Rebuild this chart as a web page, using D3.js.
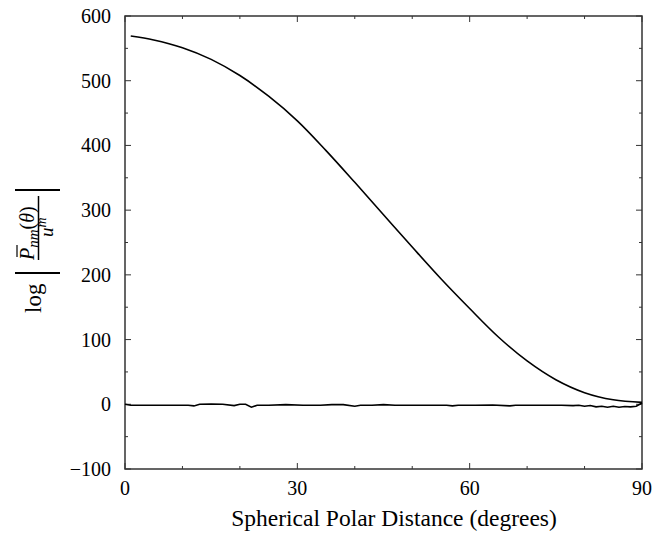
<!DOCTYPE html>
<html>
<head>
<meta charset="utf-8">
<script src="https://cdn.jsdelivr.net/npm/d3@7"></script>
<style>
  body { margin: 0; background: #fff; }
  svg text { font-family: "Liberation Serif", "DejaVu Serif", serif; fill: #000; }
  .tick-label { font-size: 20px; }
  .axis-title { font-size: 23.5px; }
</style>
</head>
<body>
<div id="chart"></div>
<script>
// upper curve (degrees, value)
const upperDeg = [1, 5, 10, 15, 20, 25, 30, 35, 40, 45, 50, 55, 60, 65, 70, 75, 80, 85, 90];
const upperVal = [569, 563, 551, 533, 508, 476, 438, 392, 343, 293, 243, 194, 148, 104, 67, 38, 18, 7, 3];

// lower curve, close to zero
const lowerDeg = [0, 1, 3, 6, 9, 11, 12, 13, 15, 17, 19, 20, 21, 22, 23, 25, 28, 31, 34, 36, 38, 40, 41, 43, 45, 47, 50, 53, 56, 57, 58, 61, 64, 67, 68, 70, 73, 76, 78, 79, 80, 81, 82, 83, 84, 85, 86, 87, 88, 89, 90];
const lowerVal = [0, -1.5, -1.5, -1.5, -1.5, -1.5, -2.5, 0, 0.5, 0, -2, 0, 0, -4.5, -1.5, -1.5, -0.5, -1.5, -1.5, -0.5, -0.5, -3, -1.5, -1.5, -0.5, -1.5, -1.5, -1.5, -1.5, -2.5, -1.5, -1.5, -1, -2.5, -1.5, -1.5, -1.5, -1.5, -2, -1.5, -3, -2, -4, -3, -4.5, -3, -4.5, -3.5, -4, -3, 2];

const xTicks = [0, 30, 60, 90];
const yTicks = [-100, 0, 100, 200, 300, 400, 500, 600];

const width = 658;
const height = 539;
const margin = { top: 16, right: 16, bottom: 70, left: 125 };
const innerWidth = width - margin.left - margin.right;
const innerHeight = height - margin.top - margin.bottom;

const svg = d3.select("#chart")
  .append("svg")
  .attr("width", width)
  .attr("height", height)
  .attr("font-family", "Liberation Serif, DejaVu Serif, serif");

const g = svg.append("g")
  .attr("transform", `translate(${margin.left},${margin.top})`);

const x = d3.scaleLinear().domain([0, 90]).range([0, innerWidth]);
const y = d3.scaleLinear().domain([-100, 600]).range([innerHeight, 0]);

// ticks on all four sides, pointing inward
const minorX = d3.range(0, 91, 10);
const minorY = d3.range(-100, 601, 50);
const tickCol = "#333";

function isMajorX(d) { return xTicks.includes(d); }
function isMajorY(d) { return yTicks.includes(d); }

g.selectAll(".xt-b").data(minorX).join("line")
  .attr("x1", d => x(d)).attr("x2", d => x(d))
  .attr("y1", innerHeight).attr("y2", d => innerHeight - (isMajorX(d) ? 6 : 3))
  .attr("stroke", tickCol).attr("stroke-width", 1);
g.selectAll(".xt-t").data(minorX).join("line")
  .attr("x1", d => x(d)).attr("x2", d => x(d))
  .attr("y1", 0).attr("y2", d => isMajorX(d) ? 6 : 3)
  .attr("stroke", tickCol).attr("stroke-width", 1);
g.selectAll(".yt-l").data(minorY).join("line")
  .attr("y1", d => y(d)).attr("y2", d => y(d))
  .attr("x1", 0).attr("x2", d => isMajorY(d) ? 6 : 3)
  .attr("stroke", tickCol).attr("stroke-width", 1);
g.selectAll(".yt-r").data(minorY).join("line")
  .attr("y1", d => y(d)).attr("y2", d => y(d))
  .attr("x1", innerWidth).attr("x2", d => innerWidth - (isMajorY(d) ? 6 : 3))
  .attr("stroke", tickCol).attr("stroke-width", 1);

// frame
g.append("rect")
  .attr("width", innerWidth)
  .attr("height", innerHeight)
  .attr("fill", "none")
  .attr("stroke", tickCol)
  .attr("stroke-width", 1.5);

// tick labels
g.selectAll(".xl").data(xTicks).join("text")
  .attr("class", "tick-label")
  .attr("x", d => x(d))
  .attr("y", innerHeight + 26)
  .attr("text-anchor", "middle")
  .text(d => d);

g.selectAll(".yl").data(yTicks).join("text")
  .attr("class", "tick-label")
  .attr("x", -14)
  .attr("y", d => y(d) + 7)
  .attr("text-anchor", "end")
  .text(d => d < 0 ? "\u2212" + Math.abs(d) : d);

// curves
g.append("path")
  .datum(upperDeg.map((d, i) => [x(d), y(upperVal[i])]))
  .attr("d", d3.line().curve(d3.curveCatmullRom))
  .attr("fill", "none")
  .attr("stroke", "#000")
  .attr("stroke-width", 1.6);

g.append("path")
  .datum(lowerDeg.map((d, i) => [x(d), y(lowerVal[i])]))
  .attr("d", d3.line().curve(d3.curveLinear))
  .attr("fill", "none")
  .attr("stroke", "#000")
  .attr("stroke-width", 1.6);

// x axis title
svg.append("text")
  .attr("class", "axis-title")
  .attr("x", 394)
  .attr("y", 526)
  .attr("text-anchor", "middle")
  .text("Spherical Polar Distance (degrees)");

// y axis title: log | P̄nm(θ) / u^m |
const yt = svg.append("g").attr("transform", "translate(41,313) rotate(-90)");
yt.append("text").attr("x", 0).attr("y", 0).style("font-size", "23px").text("log");
yt.append("line").attr("x1", 40).attr("x2", 40).attr("y1", -26).attr("y2", 19)
  .attr("stroke", "#000").attr("stroke-width", 2);
yt.append("line").attr("x1", 123).attr("x2", 123).attr("y1", -26).attr("y2", 19)
  .attr("stroke", "#000").attr("stroke-width", 2);
// numerator
const num = yt.append("text").attr("x", 53).attr("y", -7).style("font-size", "20px");
num.append("tspan").style("font-style", "italic").text("P");
num.append("tspan").style("font-style", "italic").style("font-size", "15px").attr("dy", 4).text("nm");
num.append("tspan").attr("dy", -4).text("(");
num.append("tspan").style("font-style", "italic").text("θ");
num.append("tspan").text(")");
yt.append("line").attr("x1", 56).attr("x2", 68).attr("y1", -24).attr("y2", -24)
  .attr("stroke", "#000").attr("stroke-width", 1.2);
// fraction bar
yt.append("line").attr("x1", 53).attr("x2", 117).attr("y1", -2.5).attr("y2", -2.5)
  .attr("stroke", "#000").attr("stroke-width", 1.5);
// denominator
const den = yt.append("text").attr("x", 76).attr("y", 12).style("font-size", "19px");
den.append("tspan").style("font-style", "italic").text("u");
den.append("tspan").style("font-style", "italic").style("font-size", "14px").attr("dy", -7).text("m");
</script>
</body>
</html>
